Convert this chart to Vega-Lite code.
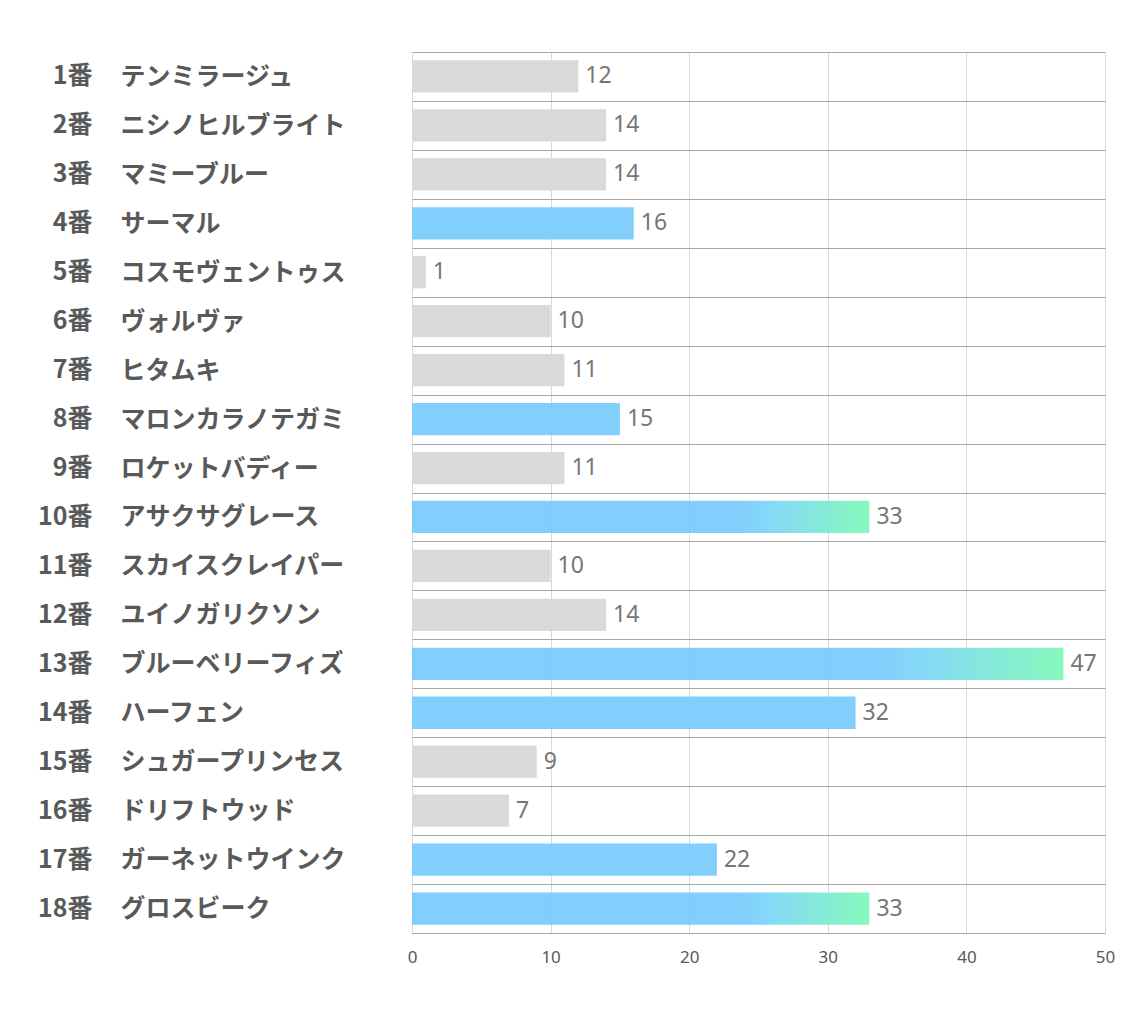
{
  "$schema": "https://vega.github.io/schema/vega-lite/v6.json",
  "width": 693,
  "height": 881,
  "autosize": {"type": "none"},
  "padding": {"left": 412, "top": 52, "right": 29, "bottom": 87},
  "background": "white",
  "data": {
    "values": [
      {"horse": "1番　テンミラージュ", "value": 12, "type": "gray"},
      {"horse": "2番　ニシノヒルブライト", "value": 14, "type": "gray"},
      {"horse": "3番　マミーブルー", "value": 14, "type": "gray"},
      {"horse": "4番　サーマル", "value": 16, "type": "blue"},
      {"horse": "5番　コスモヴェントゥス", "value": 1, "type": "gray"},
      {"horse": "6番　ヴォルヴァ", "value": 10, "type": "gray"},
      {"horse": "7番　ヒタムキ", "value": 11, "type": "gray"},
      {"horse": "8番　マロンカラノテガミ", "value": 15, "type": "blue"},
      {"horse": "9番　ロケットバディー", "value": 11, "type": "gray"},
      {"horse": "10番　アサクサグレース", "value": 33, "type": "grad"},
      {"horse": "11番　スカイスクレイパー", "value": 10, "type": "gray"},
      {"horse": "12番　ユイノガリクソン", "value": 14, "type": "gray"},
      {"horse": "13番　ブルーベリーフィズ", "value": 47, "type": "grad"},
      {"horse": "14番　ハーフェン", "value": 32, "type": "blue"},
      {"horse": "15番　シュガープリンセス", "value": 9, "type": "gray"},
      {"horse": "16番　ドリフトウッド", "value": 7, "type": "gray"},
      {"horse": "17番　ガーネットウインク", "value": 22, "type": "blue"},
      {"horse": "18番　グロスビーク", "value": 33, "type": "grad"}
    ]
  },
  "encoding": {
    "y": {
      "field": "horse",
      "type": "nominal",
      "sort": null,
      "scale": {"paddingInner": 0, "paddingOuter": 0}
    },
    "x": {
      "field": "value",
      "type": "quantitative",
      "scale": {"domain": [0, 50], "nice": false, "zero": true},
      "axis": {
        "title": null,
        "values": [0, 10, 20, 30, 40, 50],
        "grid": true,
        "gridColor": "#d9d9d9",
        "domain": false,
        "ticks": false,
        "labelFlush": false,
        "labelPadding": 16,
        "labelFont": "Noto Sans",
        "labelFontSize": 17,
        "labelColor": "#595959"
      }
    }
  },
  "layer": [
    {
      "mark": {
        "type": "text",
        "align": "left",
        "baseline": "middle",
        "dx": 7,
        "font": "Noto Sans",
        "fontSize": 23,
        "color": "#767676"
      },
      "encoding": {
        "text": {"field": "value", "type": "quantitative"},
        "y": {
          "field": "horse",
          "type": "nominal",
          "sort": null,
          "axis": {
            "orient": "left",
            "title": null,
            "grid": true,
            "tickBand": "extent",
            "gridColor": "#a6a6a6",
            "domain": false,
            "ticks": false,
            "tickSize": 0,
            "labelExpr": "split(datum.label, '　')[1]",
            "labelAlign": "left",
            "labelPadding": 292,
            "labelLimit": 400,
            "labelFont": "Noto Sans CJK JP",
            "labelFontWeight": "bold",
            "labelFontSize": 25,
            "labelColor": "#595959"
          }
        }
      }
    },
    {
      "layer": [
        {
          "transform": [{"filter": "datum.type === 'gray'"}],
          "mark": {"type": "bar", "color": "#d9d9d9", "height": {"band": 0.66}}
        },
        {
          "transform": [{"filter": "datum.type === 'blue'"}],
          "mark": {"type": "bar", "color": "#7bcbfd", "opacity": 0.95, "height": {"band": 0.66}}
        },
        {
          "transform": [{"filter": "datum.type === 'grad'"}],
          "mark": {
            "type": "bar",
            "opacity": 0.95,
            "height": {"band": 0.66},
            "color": {
              "gradient": "linear",
              "x1": 0, "y1": 0, "x2": 1, "y2": 0,
              "stops": [
                {"offset": 0, "color": "#7bcbfd"},
                {"offset": 0.71, "color": "#7bcbfd"},
                {"offset": 0.78, "color": "#7fd6f8"},
                {"offset": 1, "color": "#80f9b8"}
              ]
            }
          }
        }
      ],
      "encoding": {
        "y": {
          "field": "horse",
          "type": "nominal",
          "sort": null,
          "axis": {
            "orient": "left",
            "title": null,
            "grid": false,
            "domain": false,
            "ticks": false,
            "tickSize": 0,
            "labelExpr": "split(datum.label, '　')[0]",
            "labelAlign": "right",
            "labelPadding": 320,
            "labelLimit": 400,
            "labelFont": "Noto Sans CJK JP",
            "labelFontWeight": "bold",
            "labelFontSize": 25,
            "labelColor": "#595959"
          }
        }
      }
    }
  ],
  "resolve": {"axis": {"y": "independent"}},
  "config": {"view": {"stroke": null}}
}
